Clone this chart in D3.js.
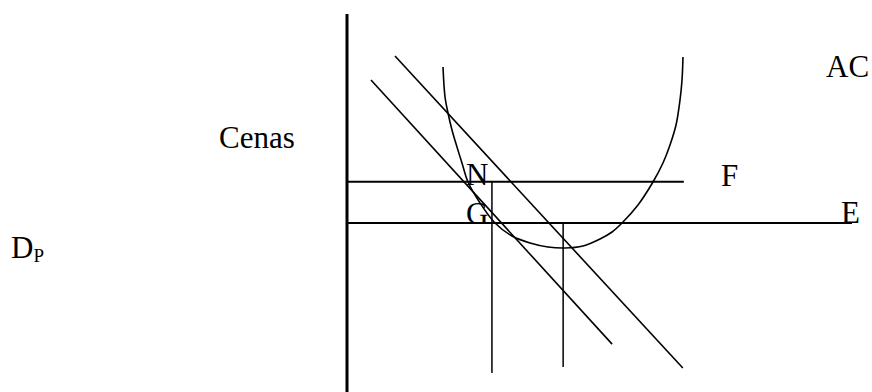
<!DOCTYPE html>
<html>
<head>
<meta charset="utf-8">
<script src="https://cdn.jsdelivr.net/npm/d3@7"></script>
<style>
  body { margin: 0; background: white; }
</style>
</head>
<body>
<div id="canvas"></div>
<script>
"use strict"

/* drawing size */
let svgWidth = 872;
let svgHeight = 392;
let serif = "'Liberation Serif', 'Times New Roman', Times, 'DejaVu Serif', serif";

/* Data: quantity (q) and price (p), both on a 0-100 scale */

// the two demand lines, [start, end]
let demandOuter = [{ q: 9.5, p: 88.4 }, { q: 66.5, p: 6.3 }];
let demandInner = [{ q: 4.75, p: 82.1 }, { q: 52.5, p: 12.6 }];

// price levels F (N) and E (G)
let priceF = 55.3;
let priceE = 44.5;
let endF = 66.7;
let endE = 100;

// quantity drop lines
let dropLines = [
    { q: 28.7, pTop: 55.3, pBottom: 5.0 },
    { q: 42.8, pTop: 44.5, pBottom: 6.6 }
];

// AC curve
let acCurve = [
    { q: 19.01, p: 85.53 }, { q: 19.41, p: 77.63 }, { q: 20.0, p: 73.42 },
    { q: 20.79, p: 68.95 }, { q: 21.78, p: 64.47 }, { q: 22.77, p: 60.26 },
    { q: 23.96, p: 55.26 }, { q: 26.34, p: 49.74 }, { q: 29.31, p: 44.47 },
    { q: 32.67, p: 41.05 }, { q: 36.24, p: 39.21 }, { q: 39.80, p: 38.16 },
    { q: 43.17, p: 37.89 }, { q: 46.73, p: 38.42 }, { q: 50.10, p: 40.26 },
    { q: 52.48, p: 42.11 }, { q: 54.46, p: 44.47 }, { q: 57.62, p: 49.21 },
    { q: 60.59, p: 55.26 }, { q: 62.57, p: 60.26 }, { q: 63.96, p: 65.0 },
    { q: 65.15, p: 70.26 }, { q: 65.94, p: 76.84 }, { q: 66.34, p: 82.11 },
    { q: 66.53, p: 88.16 }
];

/* Create drawing canvas */
let svg = d3.select("#canvas")
    .append("svg")
    .attr("width", svgWidth)
    .attr("height", svgHeight);

/* scales */
let xScale = d3.scaleLinear()
    .domain([0, 100])
    .range([347, 852]);

let yScale = d3.scaleLinear()
    .domain([0, 100])
    .range([392, 12]);

let line = d3.line()
    .x(d => xScale(d.q))
    .y(d => yScale(d.p));

// price axis
svg.append("line")
    .attr("x1", xScale(0))
    .attr("x2", xScale(0))
    .attr("y1", yScale(100) + 2)
    .attr("y2", yScale(0))
    .attr("stroke", "black")
    .attr("stroke-width", 3);

// horizontal price lines
svg.append("line")
    .attr("x1", xScale(0))
    .attr("x2", xScale(endF))
    .attr("y1", yScale(priceF))
    .attr("y2", yScale(priceF))
    .attr("stroke", "black")
    .attr("stroke-width", 2);

svg.append("line")
    .attr("x1", xScale(0))
    .attr("x2", xScale(endE))
    .attr("y1", yScale(priceE))
    .attr("y2", yScale(priceE))
    .attr("stroke", "black")
    .attr("stroke-width", 2);

// vertical drop lines
svg.selectAll("line.drop")
    .data(dropLines)
    .join("line")
    .attr("class", "drop")
    .attr("x1", d => xScale(d.q))
    .attr("x2", d => xScale(d.q))
    .attr("y1", d => yScale(d.pTop))
    .attr("y2", d => yScale(d.pBottom))
    .attr("stroke", "black")
    .attr("stroke-width", 1.5);

// demand lines
svg.selectAll("path.demand")
    .data([demandOuter, demandInner])
    .join("path")
    .attr("class", "demand")
    .attr("d", d => line(d))
    .attr("fill", "none")
    .attr("stroke", "black")
    .attr("stroke-width", 1.6);

// AC curve
svg.append("path")
    .attr("d", line.curve(d3.curveCatmullRom)(acCurve))
    .attr("fill", "none")
    .attr("stroke", "black")
    .attr("stroke-width", 1.6);

/* labels */
let fontSize = 31;

let labels = [
    { t: "Cenas", x: 219, y: 148 },
    { t: "AC", x: 826, y: 77 },
    { t: "F", x: 721, y: 186 },
    { t: "E", x: 841, y: 223 },
    { t: "N", x: 466, y: 185 },
    { t: "G", x: 466, y: 224 }
];

svg.selectAll("text.lbl")
    .data(labels)
    .join("text")
    .attr("class", "lbl")
    .attr("x", d => d.x)
    .attr("y", d => d.y)
    .attr("font-family", serif)
    .attr("font-size", fontSize)
    .text(d => d.t);

// D with subscript P
let dp = svg.append("text")
    .attr("x", 11)
    .attr("y", 258)
    .attr("font-family", serif)
    .attr("font-size", fontSize);
dp.append("tspan").text("D");
dp.append("tspan")
    .attr("dy", 4)
    .attr("font-size", 19)
    .text("P");
</script>
</body>
</html>
